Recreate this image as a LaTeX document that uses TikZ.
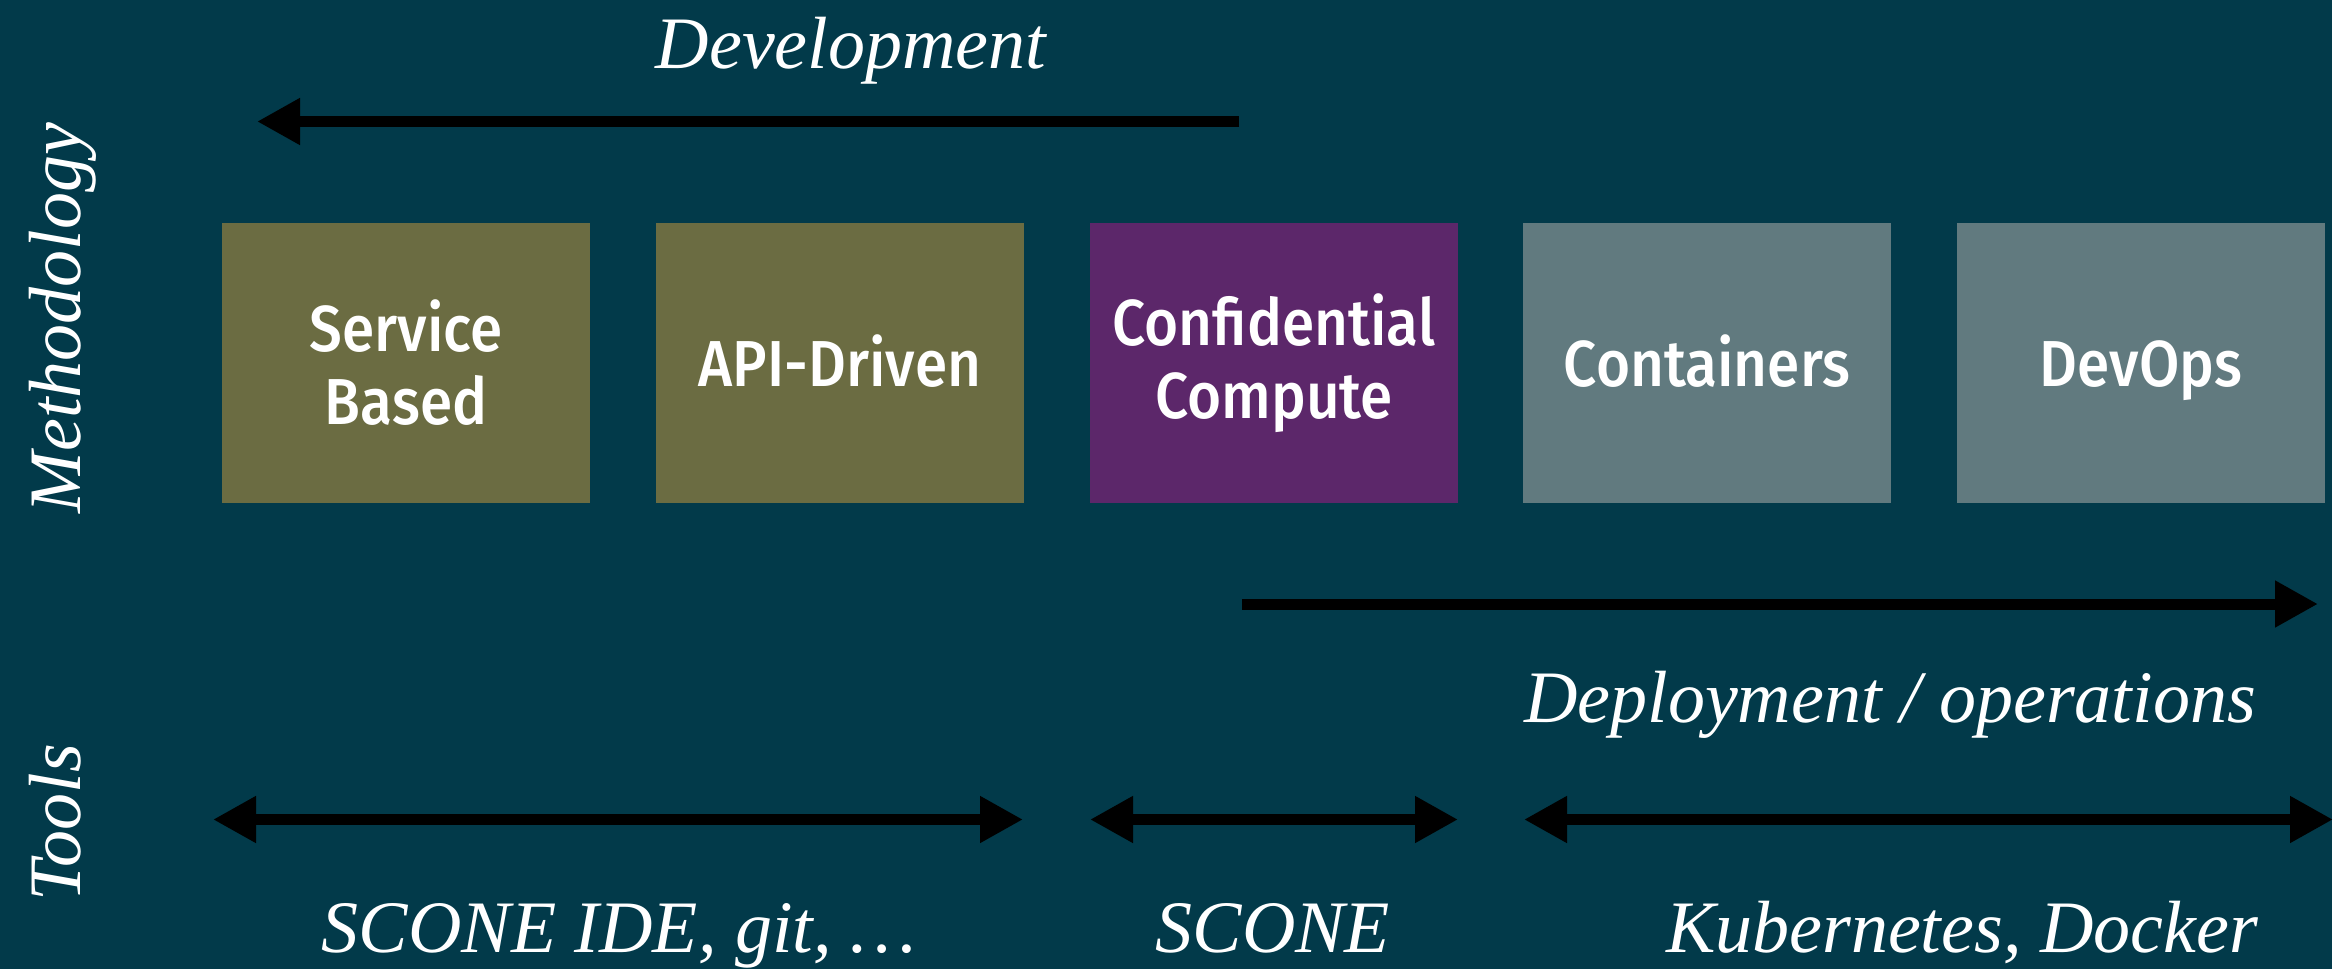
\documentclass[tikz,border=0pt]{standalone}
\usepackage{fontspec}
\setmainfont{Liberation Serif}
\newfontfamily\boxfont{Fira Sans}[UprightFont={* Medium}, FakeStretch=0.9]
\usetikzlibrary{arrows.meta}
\definecolor{bg}{HTML}{023A4A}
\definecolor{olive}{HTML}{6B6C42}
\definecolor{plum}{HTML}{5C276A}
\definecolor{slate}{HTML}{617A7F}
\tikzset{
  box/.style={minimum width=368pt, minimum height=280pt, inner sep=0pt, outer sep=0pt,
    text=white, align=center, font=\boxfont\fontsize{65}{73}\selectfont},
  oneline/.style={align=none, text height=46pt, text depth=0pt},
  lbl/.style={text=white, inner sep=0pt, font=\itshape\fontsize{74}{80}\selectfont},
  bigarrow/.style={line width=11pt, -{Triangle[length=43pt,width=44pt]}},
  dblarrow/.style={line width=11pt, {Triangle[length=43pt,width=44pt]}-{Triangle[length=43pt,width=44pt]}},
}
\begin{document}
\begin{tikzpicture}[x=1pt,y=-1pt]
\fill[bg] (0,0) rectangle (2332,969);
\useasboundingbox (0,0) rectangle (2332,969);
% boxes
\node[box, fill=olive] (sb) at (406,363) {Service\\Based};
\node[box, oneline, fill=olive] (api) at (840,363) {API-Driven};
\node[box, fill=plum] (cc) at (1274,363) {Confidential\\Compute};
\node[box, oneline, fill=slate] (cont) at (1707,363) {Containers};
\node[box, oneline, fill=slate] (dev) at (2141,363) {DevOps};
% labels
\node[lbl, anchor=base] (devl) at (851,68) {Development};
\node[lbl, anchor=base] (depl) at (1890,722) {Deployment / operations};
\node[lbl, anchor=base] (t1) at (619,952) {SCONE IDE, git, \dots};
\node[lbl, anchor=base] (t2) at (1273,952) {SCONE};
\node[lbl, anchor=base] (t3) at (1962,952) {Kubernetes, Docker};
\node[lbl, anchor=base, rotate=90] (meth) at (80,318) {Methodology};
\node[lbl, anchor=base, rotate=90] (tools) at (80,823) {Tools};
% arrow coordinates
\coordinate (a1s) at (1239,121.5);
\coordinate (a1e) at (257,121.5);
\coordinate (a2s) at (1242,604);
\coordinate (a2e) at (2318,604);
\coordinate (b1s) at (213,819.5);
\coordinate (b1e) at (1023,819.5);
\coordinate (b2s) at (1090,819.5);
\coordinate (b2e) at (1458,819.5);
\coordinate (b3s) at (1524,819.5);
\coordinate (b3e) at (2333,819.5);
\draw[bigarrow] (a1s) -- (a1e);
\draw[bigarrow] (a2s) -- (a2e);
\draw[dblarrow] (b1s) -- (b1e);
\draw[dblarrow] (b2s) -- (b2e);
\draw[dblarrow] (b3s) -- (b3e);
\end{tikzpicture}
\end{document}
